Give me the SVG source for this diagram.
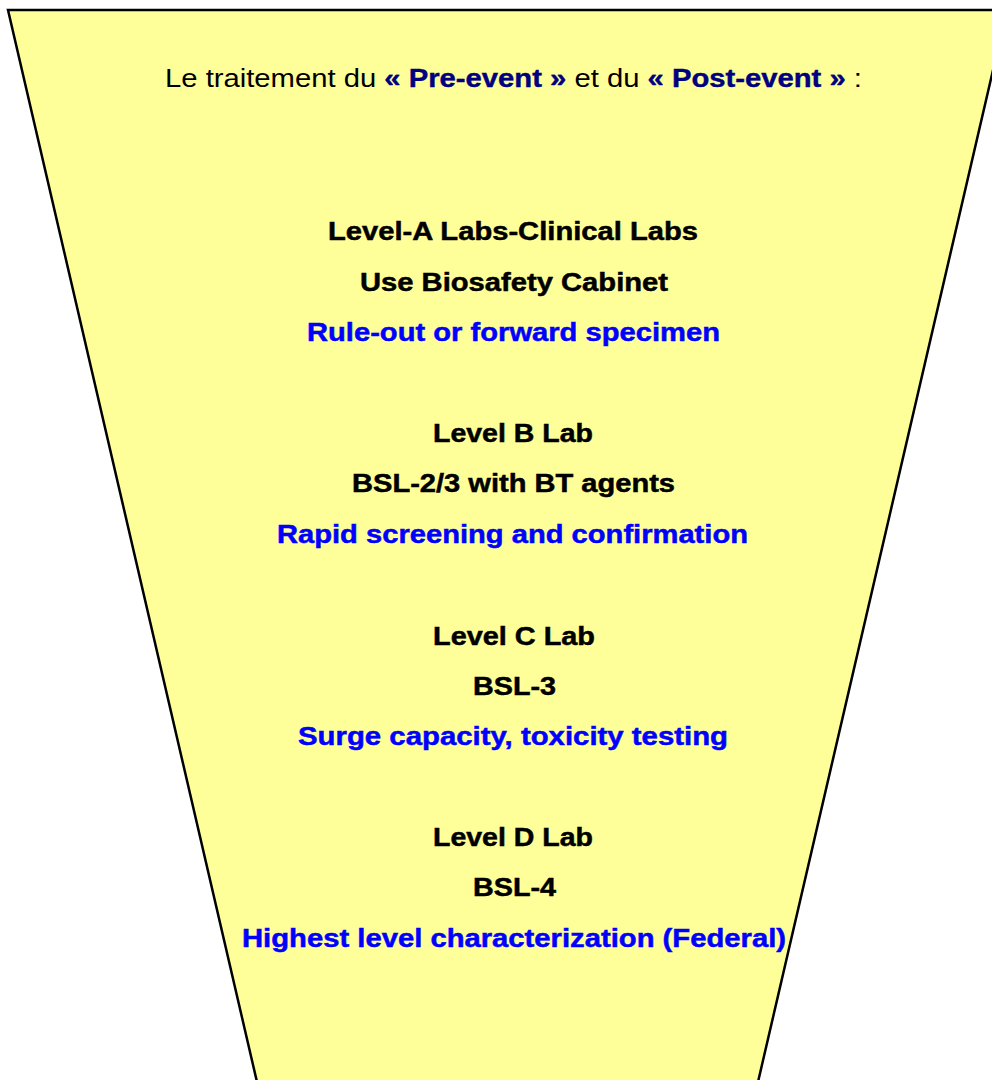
<svg xmlns="http://www.w3.org/2000/svg" width="992" height="1080" viewBox="0 0 992 1080">
  <style>
    .t { font-family: "Liberation Sans", Arial, sans-serif; font-size: 26px; text-anchor: middle; }
    .b { font-weight: bold; fill: #000000; stroke: #000000; stroke-width: 0.5; }
    .blue { font-weight: bold; fill: #0000FF; stroke: #0000FF; stroke-width: 0.5; }
    .navy { font-weight: bold; fill: #000080; stroke: #000080; stroke-width: 0.4; }
    .reg { fill: #000000; }
  </style>
  <rect x="0" y="0" width="992" height="1080" fill="#FFFFFF"/>
  <g id="funnel">
    <polygon points="8,10 1007,10 758,1082 257,1082" fill="#FFFF99" stroke="#000000" stroke-width="2.5"/>
  </g>
  <g id="title">
    <text class="t reg" x="513.5" y="87" textLength="697" lengthAdjust="spacingAndGlyphs">Le traitement du <tspan class="navy">« Pre-event »</tspan> et du <tspan class="navy">« Post-event »</tspan> :</text>
  </g>
  <g id="level-a">
    <text class="t b" x="513" y="240" textLength="370" lengthAdjust="spacingAndGlyphs">Level-A Labs-Clinical Labs</text>
    <text class="t b" x="514" y="290.5" textLength="308" lengthAdjust="spacingAndGlyphs">Use Biosafety Cabinet</text>
    <text class="t blue" x="513.5" y="341" textLength="413" lengthAdjust="spacingAndGlyphs">Rule-out or forward specimen</text>
  </g>
  <g id="level-b">
    <text class="t b" x="513" y="442" textLength="160" lengthAdjust="spacingAndGlyphs">Level B Lab</text>
    <text class="t b" x="513.5" y="492" textLength="323" lengthAdjust="spacingAndGlyphs">BSL-2/3 with BT agents</text>
    <text class="t blue" x="512.5" y="543" textLength="471" lengthAdjust="spacingAndGlyphs">Rapid screening and confirmation</text>
  </g>
  <g id="level-c">
    <text class="t b" x="514" y="645" textLength="162" lengthAdjust="spacingAndGlyphs">Level C Lab</text>
    <text class="t b" x="514.5" y="695" textLength="83" lengthAdjust="spacingAndGlyphs">BSL-3</text>
    <text class="t blue" x="513" y="745" textLength="430" lengthAdjust="spacingAndGlyphs">Surge capacity, toxicity testing</text>
  </g>
  <g id="level-d">
    <text class="t b" x="513" y="846" textLength="160" lengthAdjust="spacingAndGlyphs">Level D Lab</text>
    <text class="t b" x="514.5" y="896" textLength="83" lengthAdjust="spacingAndGlyphs">BSL-4</text>
    <text class="t blue" x="514" y="947" textLength="544" lengthAdjust="spacingAndGlyphs">Highest level characterization (Federal)</text>
  </g>
  <g id="connectors"/>
</svg>
